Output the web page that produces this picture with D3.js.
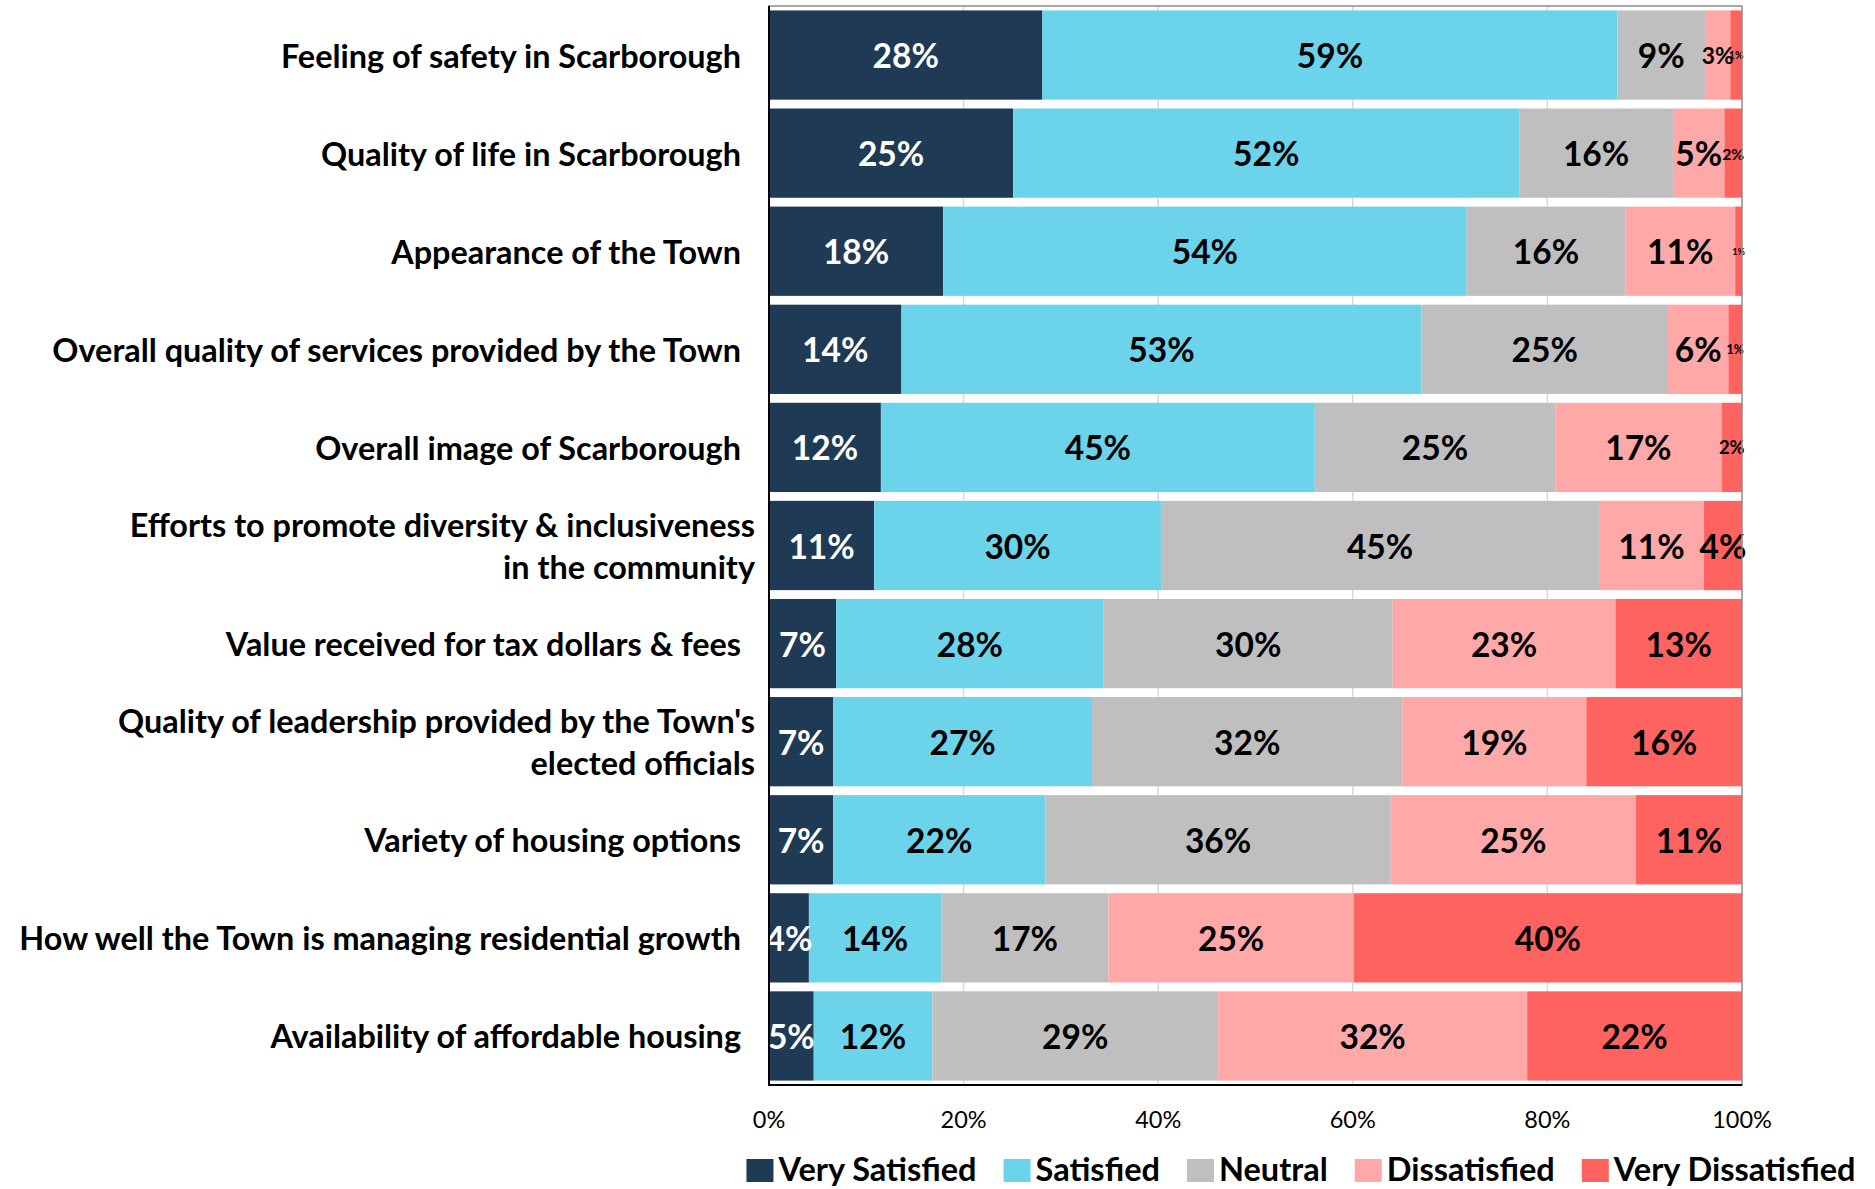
<!DOCTYPE html>
<html>
<head>
<meta charset="utf-8">
<script src="https://cdn.jsdelivr.net/npm/d3@7"></script>
<style>
    body { margin: 0; background: #fff; }
    svg { display: block; font-family: Lato, "Open Sans", sans-serif; }
</style>
</head>
<body>
<svg id="chart" width="1875" height="1189"></svg>
<script>
// Survey satisfaction ratings, percent of respondents per item
const categories = [
    'Feeling of safety in Scarborough',
    'Quality of life in Scarborough',
    'Appearance of the Town',
    'Overall quality of services provided by the Town',
    'Overall image of Scarborough',
    'Efforts to promote diversity & inclusiveness\nin the community',
    'Value received for tax dollars & fees',
    "Quality of leadership provided by the Town's\nelected officials",
    'Variety of housing options',
    'How well the Town is managing residential growth',
    'Availability of affordable housing'
];
const seriesNames = ['Very Satisfied', 'Satisfied', 'Neutral', 'Dissatisfied', 'Very Dissatisfied'];

const verySatisfied    = [28.1, 25.1, 17.9, 13.6, 11.5, 10.8, 6.9, 6.6, 6.6, 4.1, 4.6];
const satisfied        = [59.1, 52.0, 53.8, 53.4, 44.6, 29.5, 27.5, 26.6, 21.8, 13.6, 12.2];
const neutral          = [9.0, 15.8, 16.3, 25.3, 24.7, 45.0, 29.7, 31.9, 35.5, 17.2, 29.4];
const dissatisfied     = [2.6, 5.3, 11.3, 6.2, 17.1, 10.8, 22.9, 18.9, 25.2, 25.2, 31.8];
const veryDissatisfied = [1.2, 1.8, 0.7, 1.4, 2.1, 3.9, 13.0, 16.0, 10.9, 39.9, 22.1];

const tickValues = [0, 0.2, 0.4, 0.6, 0.8, 1];

const colors = ['#1f3a55', '#6bd3ea', '#bfbfbf', '#ffa8a8', '#ff6360'];
const labelColors = ['#ffffff', '#000000', '#000000', '#000000', '#000000'];

// build rows for the stack layout
const seriesValues = [verySatisfied, satisfied, neutral, dissatisfied, veryDissatisfied];
const rows = categories.map((c, i) => {
    const row = { category: c };
    seriesNames.forEach((s, j) => { row[s] = seriesValues[j][i]; });
    return row;
});

const svg = d3.select('#chart');
const plot = { left: 769, right: 1742, top: 6, bottom: 1085 };
const valueSize = 33.5;

const x = d3.scaleLinear().domain([0, 1]).range([plot.left, plot.right]);
const y = d3.scaleBand()
    .domain(categories)
    .range([plot.top, plot.bottom])
    .paddingInner(0.09)
    .paddingOuter(0.045);

const stacked = d3.stack()
    .keys(seriesNames)
    .offset(d3.stackOffsetExpand)(rows);

// gridlines
svg.append('g')
    .selectAll('line')
    .data(tickValues.slice(1, -1))
    .enter().append('line')
    .attr('x1', d => x(d)).attr('x2', d => x(d))
    .attr('y1', plot.top).attr('y2', plot.bottom)
    .attr('stroke', '#d9d9d9')
    .attr('stroke-width', 1.5);

// bars
const layer = svg.append('g')
    .selectAll('g')
    .data(stacked)
    .enter().append('g')
    .attr('fill', (d, i) => colors[i]);

layer.selectAll('rect')
    .data(d => d)
    .enter().append('rect')
    .attr('x', d => x(d[0]))
    .attr('y', d => y(d.data.category))
    .attr('width', d => x(d[1]) - x(d[0]))
    .attr('height', y.bandwidth());

// value labels (narrow slivers get a shrunken label, like the original)
stacked.forEach((s, i) => {
    svg.append('g')
        .selectAll('text')
        .data(s)
        .enter().append('text')
        .attr('x', d => (x(d[0]) + x(d[1])) / 2)
        .attr('y', d => y(d.data.category) + y.bandwidth() / 2)
        .attr('text-anchor', 'middle')
        .attr('dominant-baseline', 'central')
        .attr('fill', labelColors[i])
        .attr('font-weight', 700)
        .attr('font-size', d => {
            const w = x(d[1]) - x(d[0]);
            return Math.max(9, Math.min(valueSize, w * 0.9));
        })
        .text(d => Math.round(d.data[s.key]) + '%');
});

// plot frame
svg.append('rect')
    .attr('x', plot.left).attr('y', plot.top)
    .attr('width', plot.right - plot.left)
    .attr('height', plot.bottom - plot.top)
    .attr('fill', 'none')
    .attr('stroke', '#8c8c8c')
    .attr('stroke-width', 1.5);
svg.append('path')
    .attr('d', `M${plot.left},${plot.top}V${plot.bottom}H${plot.right}`)
    .attr('fill', 'none')
    .attr('stroke', '#000')
    .attr('stroke-width', 2);

// x axis tick labels
svg.append('g')
    .selectAll('text')
    .data(tickValues)
    .enter().append('text')
    .attr('x', d => x(d))
    .attr('y', 1128)
    .attr('text-anchor', 'middle')
    .attr('font-size', 23.5)
    .attr('fill', '#000')
    .text(d => d3.format('.0%')(d));

// category labels
categories.forEach(c => {
    const lines = c.split('\n');
    const cy = y(c) + y.bandwidth() / 2;
    const lineH = 42;
    const t = svg.append('text')
        .attr('text-anchor', 'end')
        .attr('font-size', 32.4)
        .attr('font-weight', 700)
        .attr('fill', '#000');
    lines.forEach((ln, k) => {
        t.append('tspan')
            .attr('x', lines.length > 1 ? 755 : 741)
            .attr('y', cy + (k - (lines.length - 1) / 2) * lineH)
            .attr('dominant-baseline', 'central')
            .text(ln);
    });
});

// legend
const legend = svg.append('g');
let lx = 0;
seriesNames.forEach((s, i) => {
    const g = legend.append('g').attr('transform', `translate(${lx},0)`);
    g.append('rect')
        .attr('x', 0).attr('y', 1159)
        .attr('width', 27).attr('height', 23)
        .attr('fill', colors[i]);
    const txt = g.append('text')
        .attr('x', 32).attr('y', 1181)
        .attr('font-size', 32.5)
        .attr('font-weight', 700)
        .attr('fill', '#000')
        .text(s);
    lx += 32 + txt.node().getComputedTextLength() + 27;
});
const legendWidth = lx - 27;
legend.attr('transform', `translate(${1301 - legendWidth / 2},0)`);
</script>
</body>
</html>
